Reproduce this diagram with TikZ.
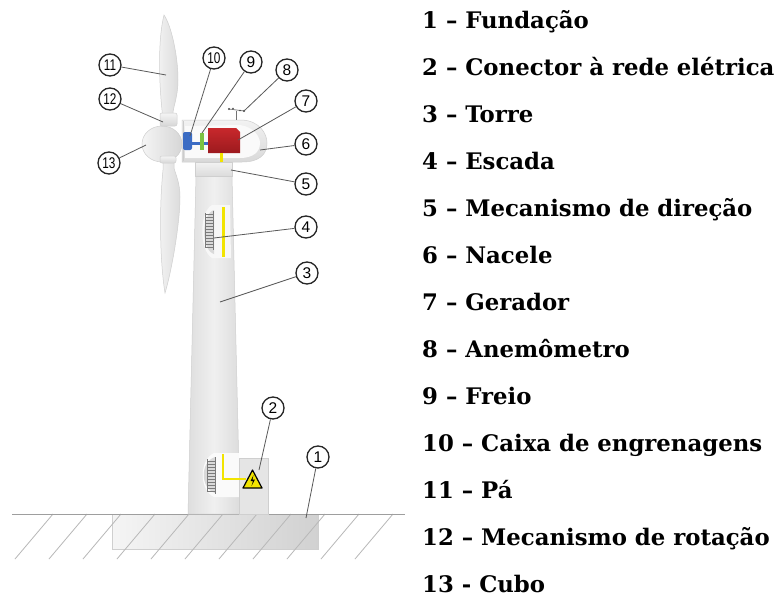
\documentclass[tikz,border=0pt]{standalone}
\usepackage{fontspec}
\usepackage{graphicx}
\setmainfont{DejaVu Serif}
\newfontfamily\calloutfont{Liberation Sans}
\newcommand{\twodig}[1]{\scalebox{0.76}[1]{#1}}

\definecolor{towerA}{HTML}{DEDEDE}
\definecolor{towerB}{HTML}{F0F0F0}
\definecolor{towerC}{HTML}{DCDCDC}
\definecolor{bladeA}{HTML}{F2F2F2}
\definecolor{bladeB}{HTML}{DCDCDC}
\definecolor{edge}{HTML}{CFCFCF}
\definecolor{genA}{HTML}{C8282C}
\definecolor{genB}{HTML}{9C1A1E}
\definecolor{gearblue}{HTML}{3B6CC4}
\definecolor{brakegreen}{HTML}{7CC242}
\definecolor{cableyellow}{HTML}{F2E400}
\definecolor{laddergrey}{HTML}{7A7A7A}

\tikzset{
  callout/.style={circle, draw=black!85, line width=1.3pt, fill=white,
    minimum size=22pt, inner sep=0pt, font=\calloutfont\fontsize{15.5}{15.5}\selectfont},
  leader/.style={draw=black!65, line width=0.8pt},
  item/.style={anchor=base west, inner sep=0pt,
    font=\fontsize{22.8}{22.8}\selectfont\bfseries},
  hatch/.style={draw=black!28, line width=0.8pt},
  part/.style={draw=edge, line width=0.5pt},
  ladder/.style={draw=laddergrey, line width=0.6pt},
}

\begin{document}
\begin{tikzpicture}[x=1pt,y=-1pt]
\useasboundingbox[fill=white] (0,0) rectangle (777,597);

% foundation, ground hatching and ground line
\path[part, left color=white!96!black, right color=white!82!black] (112,514) rectangle (318,549);
\foreach \t in {53,87,...,393} \draw[hatch] (\t,514) -- ({\t-38},559);
\draw[draw=black!38, line width=0.9pt] (12,514) -- (405,514);

% tower
\path[part, left color=towerA, right color=towerC, middle color=towerB]
  (196,176) -- (232,176) -- (240,514) -- (188,514) -- cycle;

% ladder window in the upper tower
\path[fill=white!97!black] (212,205) -- (230,205) -- (231,258) -- (212,258)
  .. controls (199,250) and (199,212) .. (212,205) -- cycle;
\path[fill=white!85!black] (214,210) .. controls (201,214) and (201,250) .. (214,254) -- cycle;
\draw[ladder] (205,213) -- (205,248) (213,211) -- (213,250);
\foreach \y in {214,217,...,247} \draw[ladder] (205,\y) -- (213,\y);
\path[fill=cableyellow] (222,207) rectangle (225,257);

% access window at the tower base
\path[fill=white!98!black] (214,453) -- (239,453) -- (239,497) -- (214,497)
  .. controls (199,490) and (199,460) .. (214,453) -- cycle;
\path[fill=white!85!black] (215,457) .. controls (200,462) and (200,488) .. (215,493) -- cycle;
\draw[ladder] (207,459) -- (207,492) (215,457) -- (215,494);
\foreach \y in {461,464,...,491} \draw[ladder] (207,\y) -- (215,\y);

% grid connection box
\path[part, fill=white!90!black] (239,458) rectangle (268,514);
\draw[cableyellow, line width=2.4pt] (223,454) -- (223,479) -- (246,479);
\path[draw=black, line width=1.2pt, fill=cableyellow, line join=round]
  (243,488) -- (262,488) -- (252.5,470) -- cycle;
\path[fill=black] (253.5,475) -- (250.5,481) -- (253,481) -- (251.5,486) -- (255,479.5) -- (252.5,479.5) -- cycle;

% yaw drive
\path[part, top color=white!95!black, bottom color=white!86!black] (195,162) rectangle (232,176);

% blades
\path[part, left color=bladeA, right color=bladeB]
  (163,122) -- (162,110) .. controls (158,70) and (159,35) .. (164,15)
  .. controls (171,25) and (178,55) .. (178,80)
  .. controls (178,95) and (174,105) .. (173,112) -- (173,122) -- cycle;
\path[part, left color=bladeA, right color=bladeB]
  (163,160) -- (163,170) .. controls (159,210) and (160,262) .. (165,293)
  .. controls (172,270) and (180,222) .. (180,197)
  .. controls (180,182) and (175,173) .. (174,168) -- (174,160) -- cycle;

% hub
\path[part, left color=white!96!black, right color=white!84!black] (162,144) ellipse [x radius=20, y radius=18];
\path[part, top color=white!96!black, bottom color=white!84!black, rounded corners=2pt] (160,113) rectangle (177,126);
\path[part, top color=white!96!black, bottom color=white!84!black, rounded corners=2pt] (160,156) rectangle (176,163);

% nacelle
\path[part, top color=white!95!black, bottom color=white!85!black]
  (182,120) -- (242,120) .. controls (260,121) and (267,134) .. (267,143)
  .. controls (267,154) and (260,162) .. (242,162) -- (182,162) -- cycle;
\path[fill=white!98!black]
  (185,126) -- (240,125) .. controls (254,127) and (260,137) .. (260,143)
  .. controls (260,152) and (253,158) .. (240,158) -- (185,158) -- cycle;
\draw[draw=white!80!black, line width=1pt] (183,121) -- (183,161);

% drive train
\path[fill=gearblue] (192,141.5) rectangle (208,144.5);
\path[fill=gearblue, rounded corners=2pt] (183,132) rectangle (192,150);
\path[fill=brakegreen] (200,133) rectangle (203.5,150);
\path[top color=genA, bottom color=genB] (208,128) -- (236,128) -- (240,132) -- (240,153) -- (208,153) -- cycle;
\path[fill=cableyellow] (220,153) rectangle (223,162);

% anemometer
\draw[draw=black!55, line width=0.7pt] (236,111) -- (236,120);
\draw[draw=black!55, line width=0.7pt] (229,109) -- (244,111);
\fill[black!70] (229,109) circle (1.1) (233,108.5) circle (0.9) (240,110.5) circle (0.9) (244,111) circle (1.2);

% leader targets
\coordinate (t11) at (166,75);
\coordinate (t12) at (163,122);
\coordinate (t13) at (146,145);
\coordinate (t10) at (190,136);
\coordinate (t9)  at (202,133);
\coordinate (t8)  at (244,111);
\coordinate (t7)  at (238,140);
\coordinate (t6)  at (260,150);
\coordinate (t5)  at (231,170);
\coordinate (t4)  at (214,238);
\coordinate (t3)  at (220,302);
\coordinate (t2)  at (259,470);
\coordinate (t1)  at (306,518);

% numbered callouts
\node[callout] (c1)  at (318,457) {1};
\node[callout] (c2)  at (273,408) {2};
\node[callout] (c3)  at (307,273) {3};
\node[callout] (c4)  at (306,227) {4};
\node[callout] (c5)  at (306,184) {5};
\node[callout] (c6)  at (306,144) {6};
\node[callout] (c7)  at (306,101) {7};
\node[callout] (c8)  at (287,70)  {8};
\node[callout] (c9)  at (251,62)  {9};
\node[callout] (c10) at (214,58)  {\twodig{10}};
\node[callout] (c11) at (110,65)  {\twodig{11}};
\node[callout] (c12) at (110,99)  {\twodig{12}};
\node[callout] (c13) at (109,163) {\twodig{13}};

\foreach \n in {1,...,13} \draw[leader] (c\n) -- (t\n);

% legend
\node[item] (l1)  at (422,28)  {1 – Fundação};
\node[item] (l2)  at (422,75)  {2 – Conector à rede elétrica};
\node[item] (l3)  at (422,122) {3 – Torre};
\node[item] (l4)  at (422,169) {4 – Escada};
\node[item] (l5)  at (422,216) {5 – Mecanismo de direção};
\node[item] (l6)  at (422,263) {6 – Nacele};
\node[item] (l7)  at (422,310) {7 – Gerador};
\node[item] (l8)  at (422,357) {8 – Anemômetro};
\node[item] (l9)  at (422,404) {9 – Freio};
\node[item] (l10) at (422,451) {10 – Caixa de engrenagens};
\node[item] (l11) at (422,498) {11 – Pá};
\node[item] (l12) at (422,545) {12 – Mecanismo de rotação};
\node[item] (l13) at (422,592) {13 - Cubo};
\end{tikzpicture}
\end{document}
